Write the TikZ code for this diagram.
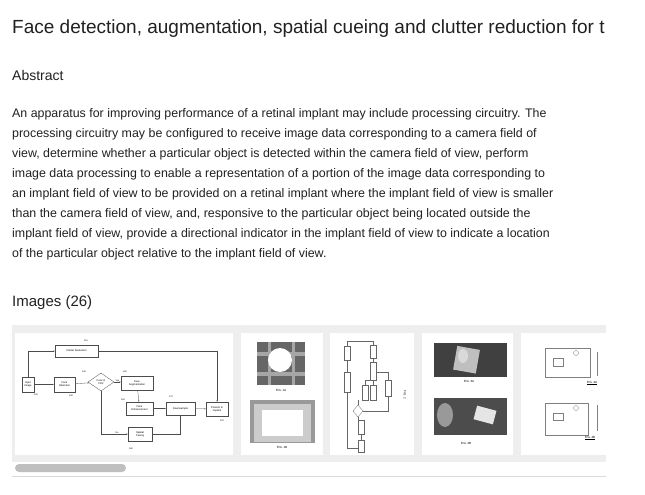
\documentclass[tikz,border=0pt]{standalone}
\usepackage{fontspec}
\setmainfont{Liberation Sans}
\usetikzlibrary{shapes.geometric,arrows.meta}
\definecolor{txt}{HTML}{212121}
\definecolor{strip}{HTML}{EEEEEE}
\begin{document}
\begin{tikzpicture}[x=1pt,y=-1pt,
  body/.style={anchor=base west,inner sep=0,font=\fontsize{12.4}{14}\selectfont,text=txt},
  fb/.style={draw=black!70,line width=0.3pt,fill=white,font=\fontsize{2.6}{3}\selectfont,align=center,inner sep=0.5pt},
  fa/.style={draw=black!70,line width=0.3pt,-{Stealth[length=1.5pt]}},
  lab/.style={font=\fontsize{2.2}{2.5}\selectfont,inner sep=0},
  thumb/.style={fill=white,draw=none},
  figcap/.style={font=\fontsize{3}{3.5}\selectfont,inner sep=0}]
\useasboundingbox (0,0) rectangle (645,495);
\fill[white] (0,0) rectangle (645,495);
\node[body,font=\fontsize{19}{22}\selectfont] (title) at (12,34) {Face detection, augmentation, spatial cueing and clutter reduction for t};
\node[body,font=\fontsize{14}{16}\selectfont] (abs) at (12,81) {Abstract};
\foreach \t [count=\i] in {
 {An apparatus for improving performance of a retinal implant may include processing circuitry. The},
 {processing circuitry may be configured to receive image data corresponding to a camera field of},
 {view, determine whether a particular object is detected within the camera field of view, perform},
 {image data processing to enable a representation of a portion of the image data corresponding to},
 {an implant field of view to be provided on a retinal implant where the implant field of view is smaller},
 {than the camera field of view, and, responsive to the particular object being located outside the},
 {implant field of view, provide a directional indicator in the implant field of view to indicate a location},
 {of the particular object relative to the implant field of view.}}
 \node[body] (l\i) at (12,{117+20*(\i-1)}) {\t};
\node[body,font=\fontsize{15}{17}\selectfont] (img) at (12,306) {Images (26)};
% strip
\fill[strip] (12,325) rectangle (606,462);
\draw[black!15] (12,476) -- (606,476);
\fill[black!25,rounded corners=4pt] (15,464) rectangle (126,472);
\fill[thumb] (15,333) rectangle (233,455);
\fill[thumb] (241,333) rectangle (323,455);
\fill[thumb] (330,333) rectangle (414,455);
\fill[thumb] (422,333) rectangle (513,455);
\fill[thumb] (521,333) rectangle (606,455);
% flowchart thumb 1
\node[fb,minimum width=12pt,minimum height=15pt] (in) at (28,384.5) {Input\\Image};
\node[fb,minimum width=21pt,minimum height=15pt] (fd) at (64.5,384.5) {Face\\Detection};
\node[fb,diamond,aspect=1.45,minimum width=26pt,minimum height=18pt,inner sep=0] (dia) at (101,382) {Face in\\FOV};
\node[fb,minimum width=32pt,minimum height=14pt] (fs) at (137,383) {Face\\Segmentation};
\node[fb,minimum width=27pt,minimum height=13pt] (fe) at (139.5,408.5) {Face\\Enhancement};
\node[fb,minimum width=29pt,minimum height=13pt] (ds) at (180.5,408.5) {Downsample};
\node[fb,minimum width=22pt,minimum height=14pt] (pi) at (217,409) {Present to\\implant};
\node[fb,minimum width=24pt,minimum height=14pt] (sc) at (140,434) {Spatial\\Cueing};
\node[fb,minimum width=43pt,minimum height=12pt] (cr) at (76.5,351) {Clutter Reduction};
\draw[fa] (in) -- (fd);
\draw[fa] (fd) -- (dia);
\draw[fa] (dia.east) -- node[lab,above=0.5pt]{Yes} (fs.west|-dia.east);
\draw[fa] (fs) -- (fe);
\draw[fa] (fe) -- (ds);
\draw[fa] (ds) -- (pi);
\draw[fa] (dia.south) |- node[lab,pos=0.8,above=0.5pt]{No} (sc.west);
\draw[fa] (sc.east) -| (ds.south);
\draw[fa] (in.north) |- (cr.west);
\draw[fa] (cr.east) -| (pi.north);
\node[lab] (n110) at (86,341) {110}; \node[lab] (n100) at (36,395) {100};
\node[lab] (n130) at (71,396) {130}; \node[lab] (n140) at (84,372) {140};
\node[lab] (n150) at (125,372) {150}; \node[lab] (n160) at (123,400) {160};
\node[lab] (n170) at (171,397) {170}; \node[lab] (n120) at (222,421) {120};
\node[lab] (n180) at (131,449) {180};
% thumb 2
\fill[black!60] (257,342) rectangle (305,385);
\fill[black!35] (257,352) rectangle (305,356);
\fill[black!35] (257,372) rectangle (305,376);
\fill[black!35] (268,342) rectangle (271,385);
\fill[black!35] (292,342) rectangle (295,385);
\fill[white] (280,360) circle (12);
\node[figcap] (f1a) at (281,390) {FIG. 1A};
\fill[black!40] (250,400) rectangle (315,443);
\fill[white!80!black] (254,404) rectangle (311,442);
\fill[white] (262,410) rectangle (303,436);
\node[figcap] (f1b) at (282,447) {FIG. 1B};
% thumb 3
\begin{scope}[draw=black!60,line width=0.3pt]
\draw (344,346) rectangle (350,360);
\draw (344,372) rectangle (350,392);
\draw (370,345) rectangle (376,358);
\draw (370,362) rectangle (376,380);
\draw (362,385) rectangle (368,400);
\draw (370,385) rectangle (376,400);
\draw (385,380) rectangle (391,396);
\draw (358,405) -- (363,411) -- (358,417) -- (353,411) -- cycle;
\draw (358,420) rectangle (364,434);
\draw (358,440) rectangle (364,452);
\draw (347,360) -- (347,372); \draw (347,392) -- (347,448) -- (358,448);
\draw (347,346) -- (347,341) -- (373,341) -- (373,345);
\draw (373,358)--(373,362); \draw (373,380)--(373,385); \draw (365,385)--(365,380)--(370,380);
\draw (363,411) -- (388,411) -- (388,396); \draw (388,380)--(388,372)--(376,372);
\draw (358,405)--(358,400); \draw (358,417)--(358,420); \draw (361,434)--(361,440);
\end{scope}
\node[figcap,rotate=-90] (f2) at (405,395) {FIG. 2};
% thumb 4
\fill[black!75] (434,343) rectangle (507,377);
\fill[black!25,rotate around={-10:(468,360)}] (455,348) rectangle (478,372);
\fill[white!85!black] (463,356) ellipse (5 and 7);
\node[figcap] (f3a) at (469,381) {FIG. 3A};
\fill[black!70] (434,398) rectangle (507,435);
\fill[black!40] (445,415) ellipse (8 and 12);
\fill[white!90!black,rotate around={-15:(485,415)}] (475,408) rectangle (495,422);
\node[figcap] (f3b) at (466,443) {FIG. 3B};
% thumb 5
\begin{scope}[draw=black!50,line width=0.3pt]
\draw (545,348) rectangle (590,377); \draw (553,358) rectangle (563,366); \draw (576,353) circle (2.5);
\draw (597,352) -- (597,376);
\draw (545,403) rectangle (588,435); \draw (553,413) rectangle (563,420); \draw (576,408) circle (2.5);
\draw (597,405) -- (597,431);
\end{scope}
\node[figcap] (f4a) at (592,383) {\underline{FIG. 4A}};
\node[figcap] (f4b) at (590,438) {\underline{FIG. 4B}};
\end{tikzpicture}
\end{document}
